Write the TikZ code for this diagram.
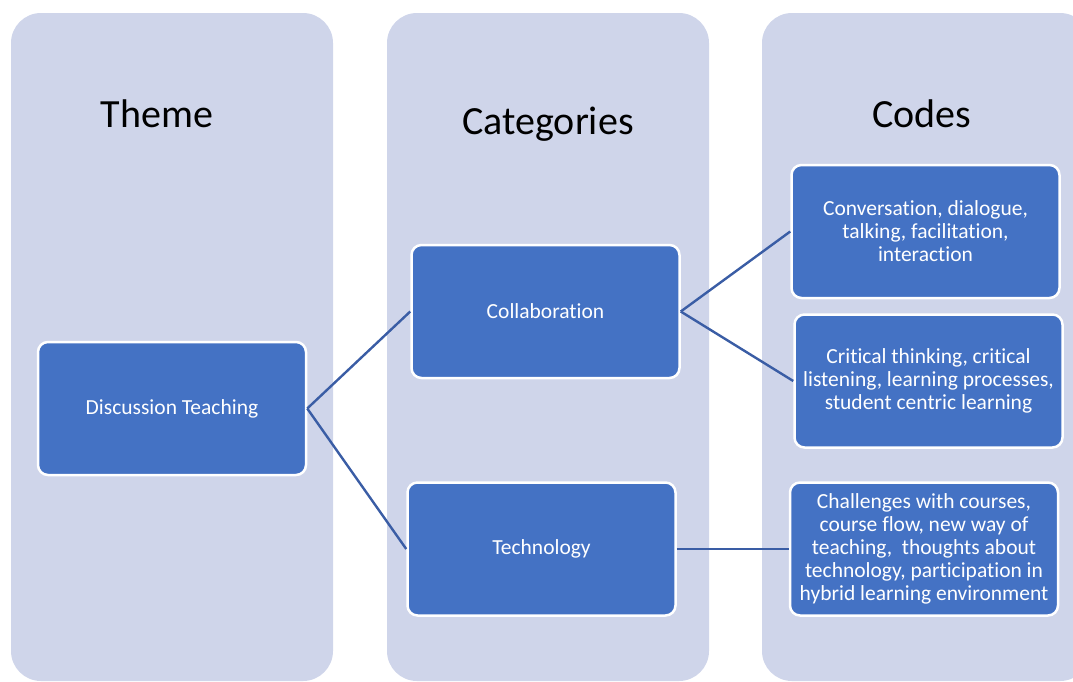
\documentclass[tikz,border=0pt]{standalone}
\usepackage{fontspec}
\setmainfont{Carlito}[Ligatures=NoCommon]
\usepackage{tikz}
\usepackage{xcolor}
\definecolor{panelblue}{HTML}{CFD5EA}
\definecolor{boxblue}{HTML}{4472C4}
\definecolor{linkblue}{HTML}{3A5DA5}

\begin{document}
\begin{tikzpicture}[x=1pt, y=-1pt] \tikzstyle{panel} = [fill=panelblue,
    rounded corners=30pt] \tikzstyle{heading} = [anchor=base,
    font=\fontsize{40}{48}\selectfont] \tikzstyle{item} = [draw=white,
    line width=2.5pt, fill=boxblue, rounded corners=10pt, text=white,
    align=center, minimum width=268pt, minimum height=133pt,
    font=\fontsize{21.5}{23}\selectfont] \tikzstyle{link} = [draw=linkblue,
    line width=2.4pt]
    \useasboundingbox (0,0) rectangle (1073,681);
    \fill[panel] (11,13) rectangle (333,681);
    \fill[panel] (387,13) rectangle (709,681);
    \fill[panel] (762,13) rectangle (1090,681);
    \node [heading] at (157,127) (theme) {Theme};
    \node [heading] at (548,134) (categories) {Categories};
    \node [heading] at (922,127) (codes) {Codes};
    \node [item] at (172,408.5) (discussion) {Discussion Teaching};
    \node [item] at (545.5,311.5) (collab) {Collaboration};
    \node [item] at (541.5,549) (tech) {Technology};
    \node [item] at (925.5,231.5) (talking) {Conversation, dialogue,\\talking,
    facilitation,\\interaction};
    \node [item] at (928.5,381) (thinking) {Critical thinking, critical\\
    listening, learning processes,\\student centric learning};
    \node [item] at (924,549) (hybrid) {Challenges with courses,\\course flow,
    new way of\\teaching,\ \ thoughts about\\technology, participation in\\
    hybrid learning environment};
    \draw[link] (discussion.east) -- (collab.west);
    \draw[link] (discussion.east) -- (tech.west);
    \draw[link] (collab.east) -- (talking.west);
    \draw[link] (collab.east) -- (thinking.west);
    \draw[link] (tech.east) -- (hybrid.west);
\end{tikzpicture}
\end{document}
